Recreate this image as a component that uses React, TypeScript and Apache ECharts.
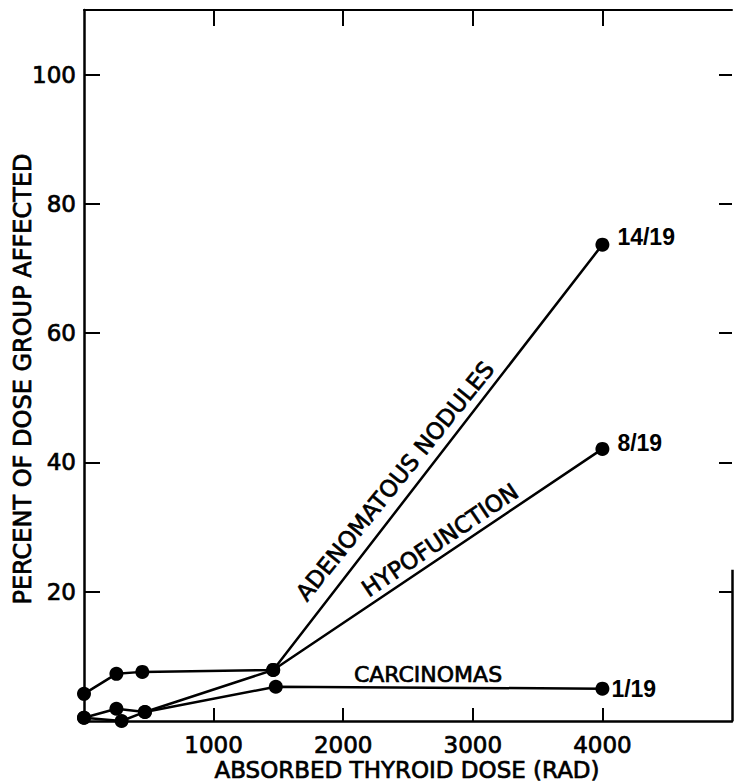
import React, { useEffect, useRef } from "react";
import * as echarts from "echarts";

// ---- data ----
const adenomaDose = [0, 250, 450, 1460, 4000];
const adenomaPct = [4.2, 7.3, 7.6, 7.9, 73.7];
const hypoDose = [0, 250, 470, 1460, 4000];
const hypoPct = [0.5, 1.9, 1.4, 7.9, 42.1];
const carcDose = [0, 290, 470, 1480, 4000];
const carcPct = [0.5, 0, 1.4, 5.3, 5.0];
const endLabels = ["14/19", "8/19", "1/19"];
const seriesNames = ["ADENOMATOUS NODULES", "HYPOFUNCTION", "CARCINOMAS"];
const xTickValues = [1000, 2000, 3000, 4000];
const yTickValues = [20, 40, 60, 80, 100];
const rightBorderSegment = [0, 23.4];
const xTitle = "ABSORBED THYROID DOSE (RAD)";
const yTitle = "PERCENT OF DOSE GROUP AFFECTED";

const FONT = "DejaVu Sans";
const heavy = { textBorderColor: "#000", textBorderWidth: 0.7 };

function pairs(xs: number[], ys: number[], label: string, offsetY: number, dist: number) {
  return xs.map((x, i) => {
    const item: any = { value: [x, ys[i]] };
    if (i === xs.length - 1) {
      item.label = {
        show: true,
        position: "right",
        formatter: label,
        distance: dist,
        offset: [0, offsetY],
        fontFamily: "Liberation Sans",
        fontWeight: "bold",
        fontSize: 23,
        color: "#000",
      };
    }
    return item;
  });
}

export default function App() {
  const ref = useRef<HTMLDivElement>(null);
  useEffect(() => {
    document.body.style.margin = "0";
    const chart = echarts.init(ref.current!, null, { renderer: "svg" });
    const lineStyle = { color: "#000", width: 2.5 };
    const baseSeries = {
      type: "line",
      symbol: "circle",
      symbolSize: 14,
      lineStyle,
      itemStyle: { color: "#000" },
      silent: true,
    };
    const fmt = (v: number) => String(v);
    const textStyle = (size: number) => ({
      fontFamily: FONT,
      fontSize: size,
      lineHeight: size,
      fill: "#000",
      stroke: "#000",
      lineWidth: 0.7,
      align: "center",
      verticalAlign: "middle",
    });
    chart.setOption({
      animation: false,
      backgroundColor: "#fff",
      textStyle: { fontFamily: FONT, color: "#000" },
      grid: { left: 84, right: 3, top: 10, bottom: 63, outerBoundsMode: "none" },
      xAxis: [
        {
          type: "value",
          position: "bottom",
          min: 0,
          max: 5000,
          interval: 1000,
          axisLine: { show: true, onZero: false, lineStyle: { color: "#000", width: 2.5 } },
          axisTick: { show: true, inside: true, length: 13, customValues: xTickValues, lineStyle: { color: "#000", width: 2 } },
          axisLabel: { show: true, customValues: xTickValues, formatter: fmt, margin: 13, fontFamily: FONT, fontSize: 23, lineHeight: 21, color: "#000", ...heavy },
          splitLine: { show: false },
        },
        {
          type: "value",
          position: "top",
          min: 0,
          max: 5000,
          interval: 1000,
          axisLine: { show: true, onZero: false, lineStyle: { color: "#000", width: 2 } },
          axisTick: { show: true, inside: true, length: 16, customValues: xTickValues, lineStyle: { color: "#000", width: 2 } },
          axisLabel: { show: false },
          splitLine: { show: false },
        },
      ],
      yAxis: [
        {
          type: "value",
          position: "left",
          min: 0,
          max: 110,
          interval: 20,
          axisLine: { show: true, onZero: false, lineStyle: { color: "#000", width: 2.5 } },
          axisTick: { show: true, inside: true, length: 16, customValues: yTickValues, lineStyle: { color: "#000", width: 2 } },
          axisLabel: { show: true, customValues: yTickValues, formatter: fmt, margin: 8, fontFamily: FONT, fontSize: 23, color: "#000", ...heavy },
          splitLine: { show: false },
        },
        {
          type: "value",
          position: "right",
          min: 0,
          max: 110,
          interval: 20,
          axisLine: { show: false, onZero: false },
          axisTick: { show: true, inside: true, length: 13, customValues: yTickValues, lineStyle: { color: "#000", width: 2 } },
          axisLabel: { show: false },
          splitLine: { show: false },
        },
      ],
      series: [
        {
          ...baseSeries,
          name: seriesNames[0],
          data: pairs(adenomaDose, adenomaPct, endLabels[0], -8, 8),
          markLine: {
            silent: true,
            symbol: ["none", "none"],
            label: { show: false },
            lineStyle: { color: "#000", width: 2.5, type: "solid" },
            data: [[{ coord: [5000, rightBorderSegment[0]] }, { coord: [5000, rightBorderSegment[1]] }]],
          },
        },
        { ...baseSeries, name: seriesNames[1], data: pairs(hypoDose, hypoPct, endLabels[1], -6, 8) },
        { ...baseSeries, name: seriesNames[2], data: pairs(carcDose, carcPct, endLabels[2], 0, 2) },
      ],
      graphic: [
        { type: "text", x: 23, y: 379, rotation: Math.PI / 2, style: { text: yTitle, ...textStyle(24) } },
        { type: "text", x: 407, y: 770, style: { text: xTitle, ...textStyle(23) } },
        { type: "text", x: 395, y: 481, rotation: (51 * Math.PI) / 180, style: { text: seriesNames[0], ...textStyle(23) } },
        { type: "text", x: 440, y: 540, rotation: (34 * Math.PI) / 180, style: { text: seriesNames[1], ...textStyle(23) } },
        { type: "text", x: 428, y: 674, style: { text: seriesNames[2], ...textStyle(22) } },
      ],
    });
    return () => chart.dispose();
  }, []);
  return <div ref={ref} style={{ width: 735, height: 784 }} />;
}
